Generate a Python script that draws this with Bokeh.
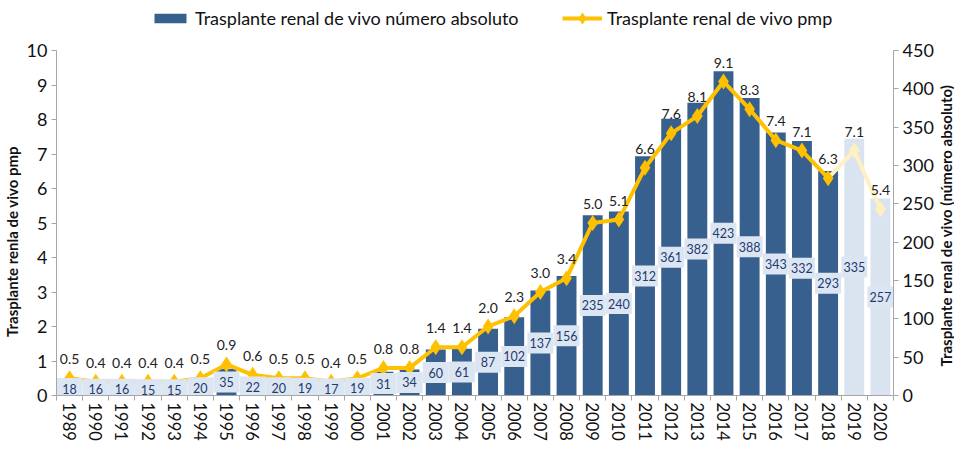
import math
from bokeh.plotting import figure
from bokeh.layouts import row
from bokeh.models import (Range1d, LinearAxis, FixedTicker, Legend, LegendItem,
                          ColumnDataSource, Label)
from bokeh.core.properties import value
from bokeh.embed import file_html
from bokeh.resources import INLINE

years = list(range(1989, 2021))
absolute = [18, 16, 16, 15, 15, 20, 35, 22, 20, 19, 17, 19, 31, 34, 60, 61, 87, 102,
            137, 156, 235, 240, 312, 361, 382, 423, 388, 343, 332, 293, 335, 257]
pmp = [0.5, 0.4, 0.4, 0.4, 0.4, 0.5, 0.9, 0.6, 0.5, 0.5, 0.4, 0.5, 0.8, 0.8, 1.4, 1.4,
       2.0, 2.3, 3.0, 3.4, 5.0, 5.1, 6.6, 7.6, 8.1, 9.1, 8.3, 7.4, 7.1, 6.3, 7.1, 5.4]
provisional_years = [2019, 2020]
pmp_ticks = list(range(0, 11))
abs_ticks = list(range(0, 451, 50))
left_title = "Trasplante renla de vivo pmp"
right_title = "Trasplante renal de vivo (número absoluto)"

FONT = "Lato"
DARK = "#37608f"
LIGHT = "#dae4f1"
GOLD = "#ffc000"
PALE_GOLD = "#fff0c2"
AXIS_GRAY = "#a6a6a6"
TXT = "#111111"

n_final = len(years) - len(provisional_years)
TOP = 11.45  # extra room above the axes for the legend

p = figure(width=914, height=443, output_backend="svg", toolbar_location=None,
           x_range=Range1d(1988.5, 2020.5), y_range=Range1d(0, TOP),
           x_axis_type=None, y_axis_type=None,
           min_border_left=34, min_border_right=40, min_border_top=0,
           min_border_bottom=40)
p.extra_y_ranges = {"abs": Range1d(0, TOP * 45)}
p.outline_line_color = None

# x axis
xaxis = LinearAxis(ticker=FixedTicker(ticks=years,
                                      minor_ticks=[y - 0.5 for y in years] + [years[-1] + 0.5]))
xaxis.major_tick_out = 0
xaxis.major_tick_in = 0
xaxis.minor_tick_out = 5
xaxis.minor_tick_in = 0
xaxis.minor_tick_line_color = AXIS_GRAY
xaxis.axis_line_color = AXIS_GRAY
xaxis.major_label_orientation = "vertical"
xaxis.major_label_text_font = FONT
xaxis.major_label_text_font_size = "16.5px"
xaxis.major_label_text_color = TXT
xaxis.major_label_standoff = 2
p.add_layout(xaxis, "below")

# left axis
laxis = LinearAxis(ticker=FixedTicker(ticks=pmp_ticks), bounds=(0, 10))
laxis.major_label_text_font = FONT
laxis.major_label_text_font_size = "18px"
laxis.major_label_text_color = TXT
laxis.major_label_standoff = 4
laxis.axis_line_color = AXIS_GRAY
laxis.major_tick_line_color = AXIS_GRAY
laxis.major_tick_out = 5
laxis.major_tick_in = 0
laxis.minor_tick_line_color = None
p.add_layout(laxis, "left")

# right axis
raxis = LinearAxis(y_range_name="abs", ticker=FixedTicker(ticks=abs_ticks), bounds=(0, 450))
raxis.major_label_text_font = FONT
raxis.major_label_text_font_size = "18px"
raxis.major_label_text_color = TXT
raxis.major_label_standoff = 4
raxis.axis_line_color = AXIS_GRAY
raxis.major_tick_line_color = AXIS_GRAY
raxis.major_tick_out = 5
raxis.major_tick_in = 0
raxis.minor_tick_line_color = None
p.add_layout(raxis, "right")

src_final = ColumnDataSource(dict(x=years[:n_final], a=absolute[:n_final], pmp=pmp[:n_final]))
src_prov = ColumnDataSource(dict(x=years[n_final:], a=absolute[n_final:], pmp=pmp[n_final:]))
src_prov_line = ColumnDataSource(dict(x=years[n_final - 1:], pmp=pmp[n_final - 1:]))

bars = p.vbar(x="x", top="a", width=0.76, source=src_final, y_range_name="abs",
              fill_color=DARK, line_color=None)
p.vbar(x="x", top="a", width=0.76, source=src_prov, y_range_name="abs",
       fill_color=LIGHT, line_color=None)

# pmp line
p.line(x="x", y="pmp", source=src_prov_line, line_color=PALE_GOLD, line_width=4)
p.scatter(x="x", y="pmp", source=src_prov, marker="diamond", size=16,
          fill_color=PALE_GOLD, line_color=None)
line = p.line(x="x", y="pmp", source=src_final, line_color=GOLD, line_width=4)
pts = p.scatter(x="x", y="pmp", source=src_final, marker="diamond", size=16,
                fill_color=GOLD, line_color=None)

# bar value labels in boxes at bar middle
all_src = ColumnDataSource(dict(x=years, a=absolute, mid=[v / 2 for v in absolute],
                                lab=[str(v) for v in absolute],
                                pmp=pmp, plab=[f"{v:.1f}" for v in pmp]))
p.rect(x="x", y="mid", width=26, height=21, width_units="screen", height_units="screen",
       source=all_src, y_range_name="abs", fill_color="#dce6f2", line_color=None)
p.text(x="x", y="mid", text="lab", source=all_src, y_range_name="abs",
       text_align="center", text_baseline="middle", text_font=value(FONT),
       text_font_size="12.5px", text_color="#1f3a70")

# pmp labels above markers
p.text(x="x", y="pmp", text="plab", source=all_src, text_align="center",
       text_baseline="bottom", y_offset=-14, text_font=value(FONT),
       text_font_size="14px", text_color="#222222")

legend_kw = dict(orientation="horizontal", label_text_font=FONT, label_text_font_size="18px",
                 label_text_color=TXT, glyph_width=40, label_standoff=5,
                 border_line_color=None, background_fill_alpha=0, padding=4, margin=0)
legend1 = Legend(items=[LegendItem(label="Trasplante renal de vivo número absoluto",
                                   renderers=[bars])],
                 location=(94, 366), glyph_height=12, **legend_kw)
legend2 = Legend(items=[LegendItem(label="Trasplante renal de vivo pmp",
                                   renderers=[line, pts])],
                 location=(506, 362), glyph_height=30, **legend_kw)
p.add_layout(legend1, "center")
p.add_layout(legend2, "center")


def title_strip(text, width, y, angle):
    s = figure(width=width, height=443, output_backend="svg", toolbar_location=None,
               x_range=Range1d(0, 1), y_range=Range1d(0, 1),
               x_axis_type=None, y_axis_type=None, min_border=0)
    s.outline_line_color = None
    s.add_layout(Label(x=0.5, y=y, text=text, angle=angle, text_align="center",
                       text_baseline="middle", text_font=FONT, text_font_style="bold",
                       text_font_size="15px", text_color=TXT))
    return s


left = title_strip(left_title, 22, 0.39, math.pi / 2)
right = title_strip(right_title, 18, 0.43, math.pi / 2)

open("out.html", "w").write(file_html(row(left, p, right), INLINE))
